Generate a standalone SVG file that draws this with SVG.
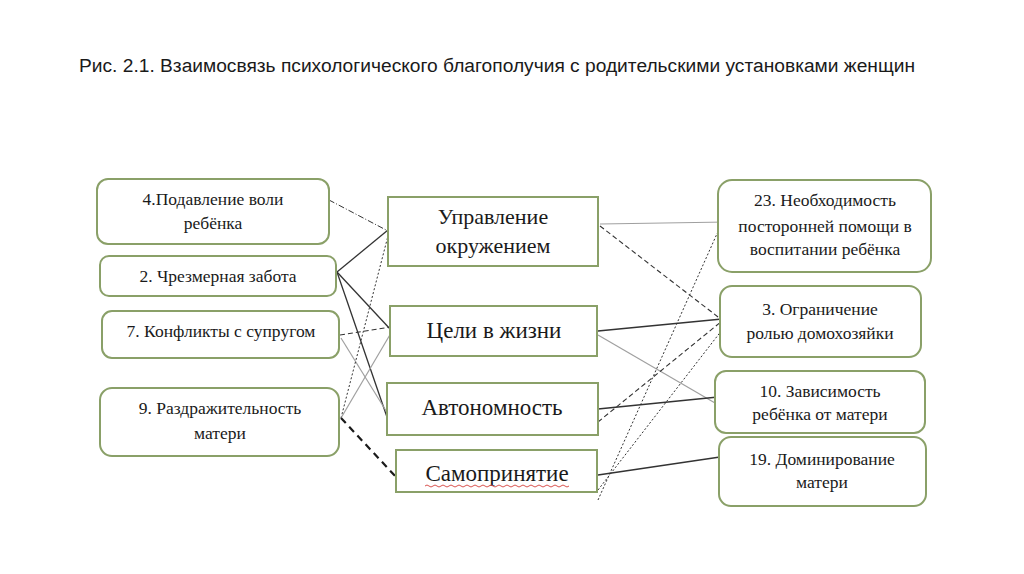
<svg xmlns="http://www.w3.org/2000/svg" width="1024" height="574" viewBox="0 0 1024 574">
<style>
.bg{fill:#ffffff}
.rb{fill:#ffffff;stroke:#8aa068;stroke-width:2}
.sb{fill:#ffffff;stroke:#8aa068;stroke-width:2}
.t{font-family:"Liberation Serif","Times New Roman",serif;font-size:17.5px;fill:#1a1a1a;text-anchor:middle}
.tm{font-family:"Liberation Serif","Times New Roman",serif;font-size:23px;fill:#1a1a1a;text-anchor:middle}
.tm2{font-family:"Liberation Serif","Times New Roman",serif;font-size:22px;fill:#1a1a1a;text-anchor:middle}
.title{font-family:"Liberation Sans",Arial,sans-serif;font-size:18px;fill:#1a1a1a}
.dk{stroke:#333333;stroke-width:1.3;fill:none}
.gr{stroke:#a0a0a0;stroke-width:1.2;fill:none}
.ds{stroke:#333333;stroke-width:1.1;fill:none;stroke-dasharray:5 3}
.dt{stroke:#333333;stroke-width:1;fill:none;stroke-dasharray:2 2}
.dd{stroke:#333333;stroke-width:1;fill:none;stroke-dasharray:6 2 1 2}
.tk{stroke:#1a1a1a;stroke-width:2.2;fill:none;stroke-dasharray:7 5}
</style>
<rect class="bg" x="0" y="0" width="1024" height="574"/>
<text class="title" x="79" y="72" textLength="836" lengthAdjust="spacingAndGlyphs">Рис. 2.1. Взаимосвязь психологического благополучия с родительскими установками женщин</text>

<g id="connectors">
<line class="dd" x1="329" y1="200" x2="388" y2="231"/>
<line class="dk" x1="337" y1="272" x2="388" y2="230"/>
<line class="dk" x1="337" y1="272" x2="391" y2="330"/>
<line class="dk" x1="337" y1="272" x2="388" y2="420"/>
<line class="ds" x1="340" y1="335" x2="391" y2="327"/>
<line class="gr" x1="341" y1="338" x2="388" y2="414"/>
<line class="dt" x1="341" y1="418" x2="389" y2="232"/>
<line class="gr" x1="341" y1="418" x2="391" y2="333"/>
<line class="tk" x1="341" y1="418" x2="397" y2="478"/>

<line class="gr" x1="600" y1="224" x2="727" y2="222"/>
<line class="ds" x1="600" y1="226" x2="722" y2="320"/>
<line class="dk" x1="598" y1="331" x2="722" y2="319"/>
<line class="gr" x1="598" y1="335" x2="715" y2="403"/>
<line class="dk" x1="598" y1="409" x2="718" y2="397"/>
<line class="ds" x1="598" y1="422" x2="722" y2="321"/>
<line class="dk" x1="598" y1="475" x2="720" y2="457"/>
<line class="dt" x1="598" y1="490" x2="722" y2="330"/>
<line class="dt" x1="598" y1="500" x2="720" y2="227"/>
</g>

<g id="n4"><rect class="rb" x="97" y="179" width="232" height="65" rx="11"/>
<text class="t" x="213" y="205">4.Подавление воли</text><text class="t" x="213" y="229">ребёнка</text></g>
<g id="n2"><rect class="rb" x="100" y="256" width="236" height="40" rx="9"/>
<text class="t" x="218" y="282">2. Чрезмерная забота</text></g>
<g id="n7"><rect class="rb" x="102" y="311" width="237" height="47" rx="10"/>
<text class="t" x="221" y="337">7. Конфликты с супругом</text></g>
<g id="n9"><rect class="rb" x="100" y="388" width="239" height="68" rx="12"/>
<text class="t" x="220" y="414">9. Раздражительность</text><text class="t" x="220" y="439">матери</text></g>

<g id="m1"><rect class="sb" x="388" y="197" width="210" height="69"/>
<text class="tm2" x="493" y="224">Управление</text><text class="tm2" x="493" y="253">окружением</text></g>
<g id="m2"><rect class="sb" x="390" y="306" width="207" height="50"/>
<text class="tm" x="494" y="338">Цели в жизни</text></g>
<g id="m3"><rect class="sb" x="387" y="383" width="211" height="52"/>
<text class="tm" x="492" y="415">Автономность</text></g>
<g id="m4"><rect class="sb" x="396" y="450" width="201" height="42"/>
<text class="tm" x="497" y="481">Самопринятие</text>
<path d="M425,486 q2,-2 4,0 t4,0 t4,0 t4,0 t4,0 t4,0 t4,0 t4,0 t4,0 t4,0 t4,0 t4,0 t4,0 t4,0 t4,0 t4,0 t4,0 t4,0 t4,0 t4,0 t4,0 t4,0 t4,0 t4,0 t4,0 t4,0 t4,0 t4,0 t4,0 t4,0 t4,0 t4,0 t4,0 t4,0 t4,0 t4,0" fill="none" stroke="#d9534f" stroke-width="1"/></g>

<g id="r23"><rect class="rb" x="718" y="180" width="213" height="92" rx="14"/>
<text class="t" x="825" y="206">23. Необходимость</text><text class="t" x="825" y="232">посторонней помощи в</text><text class="t" x="825" y="255">воспитании ребёнка</text></g>
<g id="r3"><rect class="rb" x="720" y="286" width="201" height="71" rx="12"/>
<text class="t" x="820" y="315">3. Ограничение</text><text class="t" x="820" y="339">ролью домохозяйки</text></g>
<g id="r10"><rect class="rb" x="715" y="371" width="210" height="62" rx="11"/>
<text class="t" x="820" y="397">10. Зависимость</text><text class="t" x="820" y="420">ребёнка от матери</text></g>
<g id="r19"><rect class="rb" x="719" y="437" width="207" height="69" rx="12"/>
<text class="t" x="822" y="465">19. Доминирование</text><text class="t" x="822" y="488">матери</text></g>
</svg>
